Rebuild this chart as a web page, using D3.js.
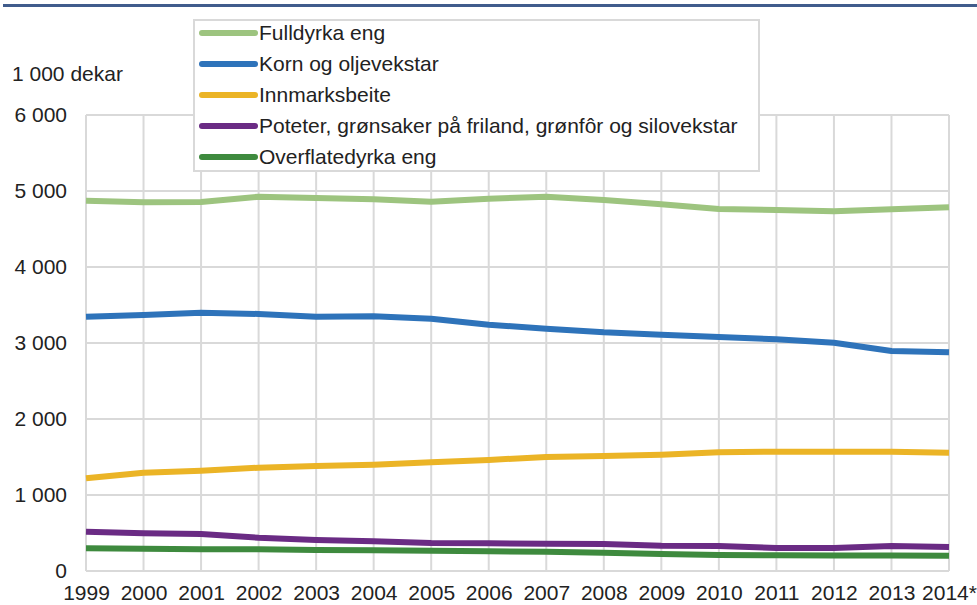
<!DOCTYPE html>
<html>
<head>
<meta charset="utf-8">
<script src="https://cdn.jsdelivr.net/npm/d3@7"></script>
<style>
  html, body { margin: 0; padding: 0; background: #fff; }
  svg { display: block; font-family: "Liberation Sans", Arial, sans-serif; }
</style>
</head>
<body>
<svg id="chart" width="977" height="605"></svg>
<script>
const years = ["1999","2000","2001","2002","2003","2004","2005","2006","2007","2008","2009","2010","2011","2012","2013","2014*"];
const yTicks = [0, 1000, 2000, 3000, 4000, 5000, 6000];
const unitLabel = "1 000 dekar";

const seriesNames = ["Fulldyrka eng", "Korn og oljevekstar", "Innmarksbeite",
  "Poteter, grønsaker på friland, grønfôr og silovekstar", "Overflatedyrka eng"];
const seriesColors = ["#9DC47F", "#2E73BA", "#EBB426", "#6A2B84", "#3E8A3E"];

const fulldyrka = [4872, 4851, 4855, 4925, 4908, 4890, 4860, 4899, 4925, 4882, 4825, 4763, 4750, 4733, 4759, 4785];
const korn      = [3346, 3368, 3399, 3382, 3346, 3351, 3320, 3240, 3188, 3140, 3110, 3079, 3049, 3004, 2895, 2877];
const innmark   = [1219, 1294, 1320, 1359, 1382, 1399, 1430, 1461, 1500, 1513, 1530, 1561, 1570, 1570, 1570, 1557];
const poteter   = [517, 496, 487, 438, 408, 391, 368, 364, 360, 355, 333, 329, 303, 303, 329, 316];
const overflate = [298, 293, 285, 285, 276, 272, 267, 259, 254, 241, 224, 211, 208, 205, 203, 201];

const seriesValues = [fulldyrka, korn, innmark, poteter, overflate];

(function () {
const svg = d3.select("#chart");
const mLeft = 86, mRight = 949, mTop = 115, mBottom = 571;

const x = d3.scalePoint().domain(years).range([mLeft, mRight]);
const y = d3.scaleLinear().domain([0, 6000]).range([mBottom, mTop]);

const gridColor = "#D9D9D9";
const textColor = "#222";

// top banner bar
svg.append("rect").attr("x", 3).attr("y", 4).attr("width", 974).attr("height", 3).attr("fill", "#405C8C");

// horizontal grid
svg.append("g").selectAll("line").data(yTicks).join("line")
  .attr("x1", mLeft).attr("x2", mRight)
  .attr("y1", d => y(d)).attr("y2", d => y(d))
  .attr("stroke", gridColor).attr("stroke-width", 2);

// vertical grid
svg.append("g").selectAll("line").data(years).join("line")
  .attr("x1", d => x(d)).attr("x2", d => x(d))
  .attr("y1", mTop).attr("y2", mBottom)
  .attr("stroke", gridColor).attr("stroke-width", 2);

// y axis labels
const yAxis = d3.axisLeft(y).tickValues(yTicks).tickSize(0).tickPadding(19)
  .tickFormat(d => d3.format(",")(d).replace(/,/g, "\u00a0"));
const gy = svg.append("g").attr("transform", `translate(${mLeft},0)`).call(yAxis);
gy.select(".domain").remove();
gy.selectAll("text").attr("font-size", 21).attr("fill", textColor)
  .attr("font-family", "Liberation Sans, Arial, sans-serif");

// x axis labels
const xAxis = d3.axisBottom(x).tickSize(0).tickPadding(14);
const gx = svg.append("g").attr("transform", `translate(0,${mBottom})`).call(xAxis);
gx.select(".domain").remove();
gx.selectAll("text").attr("font-size", 21).attr("fill", textColor)
  .attr("font-family", "Liberation Sans, Arial, sans-serif");

// unit label
svg.append("text").attr("x", 12).attr("y", 81).attr("font-size", 21).attr("fill", textColor)
  .text(unitLabel);

// lines
const line = d3.line().x((d, i) => x(years[i])).y(d => y(d));
svg.append("g").selectAll("path").data(seriesValues).join("path")
  .attr("d", d => line(d))
  .attr("fill", "none")
  .attr("stroke", (d, i) => seriesColors[i])
  .attr("stroke-width", 6)
  .attr("stroke-linejoin", "round");

// legend
const lg = svg.append("g");
lg.append("rect").attr("x", 194).attr("y", 20).attr("width", 565).attr("height", 151)
  .attr("fill", "#fff").attr("stroke", gridColor).attr("stroke-width", 2);
const rows = lg.selectAll("g.row").data(seriesNames).join("g").attr("class", "row")
  .attr("transform", (d, i) => `translate(0,${33 + i * 31})`);
rows.append("line").attr("x1", 202).attr("x2", 255).attr("y1", 0).attr("y2", 0)
  .attr("stroke", (d, i) => seriesColors[i]).attr("stroke-width", 6).attr("stroke-linecap", "round");
rows.append("text").attr("x", 259).attr("y", 0).attr("dy", "0.35em")
  .attr("font-size", 21).attr("fill", textColor).text(d => d);
})();
</script>
</body>
</html>
